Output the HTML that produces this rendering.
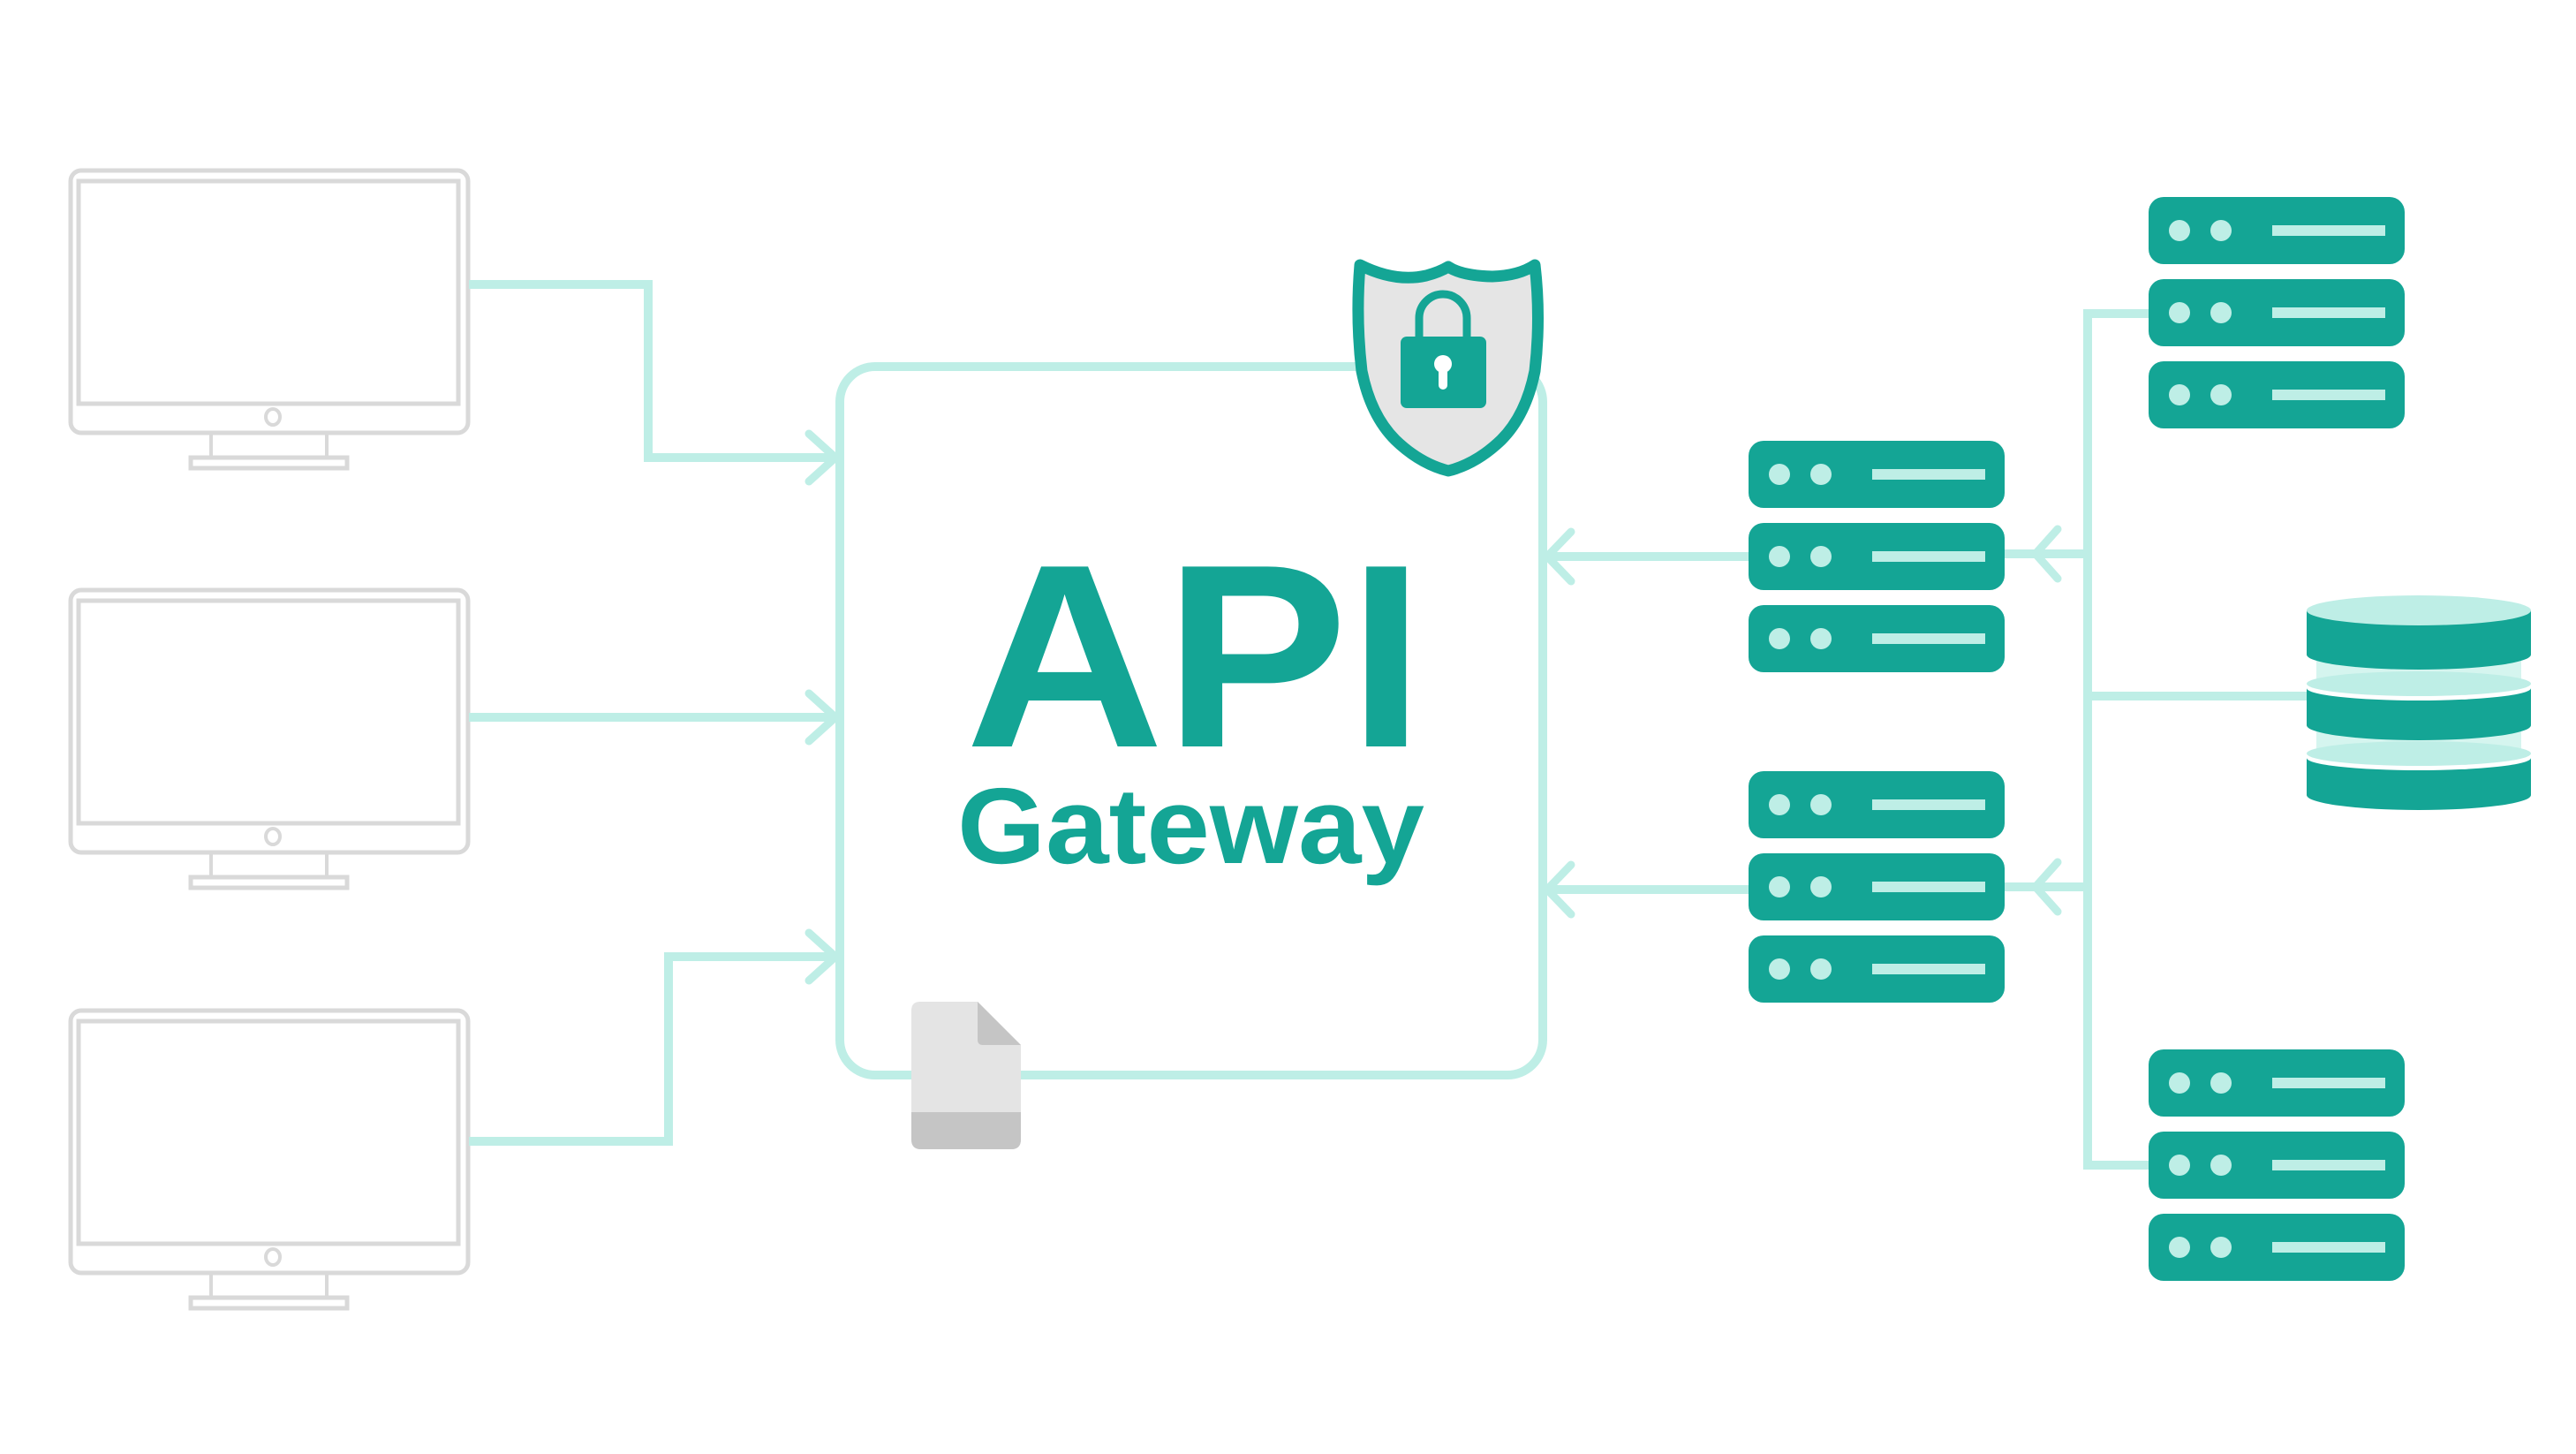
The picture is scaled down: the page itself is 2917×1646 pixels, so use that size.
<!DOCTYPE html>
<html><head><meta charset="utf-8"><style>html,body{margin:0;padding:0;background:#fff}svg{display:block}</style></head>
<body>
<svg width="2917" height="1646" viewBox="0 0 2917 1646" xmlns="http://www.w3.org/2000/svg">
<defs>
<g id="mon" fill="none" stroke="#d9d9d9">
  <rect x="80" y="193" width="450" height="297" rx="12" stroke-width="5"/>
  <rect x="89" y="205" width="430" height="252" stroke-width="5"/>
  <ellipse cx="309" cy="472" rx="8" ry="9" stroke-width="4"/>
  <path d="M239 490 V517 M370 490 V517" stroke-width="4"/>
  <rect x="216" y="518" width="177" height="12" stroke-width="5"/>
</g>
<g id="srv">
  <rect x="0" y="0" width="290" height="76" rx="17" fill="#14a595"/>
  <ellipse cx="35" cy="38" rx="12" ry="12" fill="#beeee6"/>
  <ellipse cx="82" cy="38" rx="12" ry="12" fill="#beeee6"/>
  <rect x="140" y="32" width="128" height="12" fill="#beeee6"/>
</g>
</defs>

<use href="#mon"/>
<use href="#mon" transform="translate(0,475)"/>
<use href="#mon" transform="translate(0,951)"/>

<g fill="none" stroke="#beeee6" stroke-width="10" stroke-linecap="butt" stroke-linejoin="miter">
  <rect x="951" y="415" width="796" height="802" rx="40"/>
  <path d="M531 322 H734 V518 H946"/>
  <path d="M531 812 H946"/>
  <path d="M531 1292 H757 V1083 H946"/>
  <path d="M1752 630 H1985"/>
  <path d="M1752 1007 H1985"/>
  <path d="M2268 627 H2364"/>
  <path d="M2268 1004 H2364"/>
  <path d="M2364 350 V1324"/>
  <path d="M2359 355 H2440"/>
  <path d="M2359 788 H2615"/>
  <path d="M2359 1319 H2440"/>
</g>
<g fill="none" stroke="#beeee6" stroke-width="9" stroke-linecap="round" stroke-linejoin="round">
  <path d="M916 491 L946 518 L916 545"/>
  <path d="M916 785 L946 812 L916 839"/>
  <path d="M916 1056 L946 1083 L916 1110"/>
  <path d="M1779 602 L1752 630 L1779 658"/>
  <path d="M1779 979 L1752 1007 L1779 1035"/>
  <path d="M2330 599 L2305 627 L2330 655"/>
  <path d="M2330 976 L2305 1004 L2330 1032"/>
</g>

<path d="M1540 300 Q1580 320 1615 312 Q1630 308 1640 302 Q1655 312 1690 313 Q1720 312 1738 300 Q1745 360 1738 420 Q1728 470 1700 498 Q1672 525 1640 533 Q1608 525 1580 498 Q1552 470 1542 420 Q1535 360 1540 300 Z" fill="#e5e5e5" stroke="#14a595" stroke-width="13" stroke-linejoin="round"/>
<path d="M1607 381 V360 A27 27 0 0 1 1661 360 V381" fill="none" stroke="#14a595" stroke-width="9"/>
<rect x="1586" y="381" width="97" height="81" rx="7" fill="#14a595"/>
<circle cx="1634" cy="412" r="10" fill="#fff"/>
<rect x="1629" y="412" width="10" height="29" rx="5" fill="#fff"/>

<path d="M1042 1134 H1107 L1156 1183 V1290 Q1156 1301 1145 1301 H1043 Q1032 1301 1032 1290 V1144 Q1032 1134 1042 1134 Z" fill="#e4e4e4"/>
<path d="M1032 1259 H1156 V1290 Q1156 1301 1145 1301 H1043 Q1032 1301 1032 1290 Z" fill="#c5c5c5"/>
<path d="M1107 1134 L1156 1183 H1113 Q1107 1183 1107 1177 Z" fill="#c5c5c5"/>

<text x="1093" y="845" textLength="520" lengthAdjust="spacingAndGlyphs" font-family="Liberation Sans, sans-serif" font-weight="bold" font-size="296" fill="#14a595">API</text>
<text x="1084" y="977" textLength="529" lengthAdjust="spacingAndGlyphs" font-family="Liberation Sans, sans-serif" font-weight="bold" font-size="122" fill="#14a595">Gateway</text>

<use href="#srv" x="1980" y="499"/>
<use href="#srv" x="1980" y="592"/>
<use href="#srv" x="1980" y="685"/>
<use href="#srv" x="1980" y="873"/>
<use href="#srv" x="1980" y="966"/>
<use href="#srv" x="1980" y="1059"/>
<use href="#srv" x="2433" y="223"/>
<use href="#srv" x="2433" y="316"/>
<use href="#srv" x="2433" y="409"/>
<use href="#srv" x="2433" y="1188"/>
<use href="#srv" x="2433" y="1281"/>
<use href="#srv" x="2433" y="1374"/>

<g>
  <rect x="2623" y="741" width="232" height="33" fill="#d5f5ef"/>
  <rect x="2623" y="821" width="232" height="32" fill="#d5f5ef"/>
  <ellipse cx="2739" cy="853" rx="127" ry="14" fill="#beeee6"/>
  <path d="M2612 858 V900 A127 17 0 0 0 2866 900 V858 A127 14 0 0 1 2612 858 Z" fill="#14a595"/>
  <ellipse cx="2739" cy="774" rx="127" ry="14" fill="#beeee6"/>
  <path d="M2612 779 V821 A127 17 0 0 0 2866 821 V779 A127 14 0 0 1 2612 779 Z" fill="#14a595"/>
  <path d="M2612 691 V741 A127 17 0 0 0 2866 741 V691 Z" fill="#14a595"/>
  <ellipse cx="2739" cy="691" rx="127" ry="17" fill="#beeee6"/>
</g>
</svg>
</body></html>
